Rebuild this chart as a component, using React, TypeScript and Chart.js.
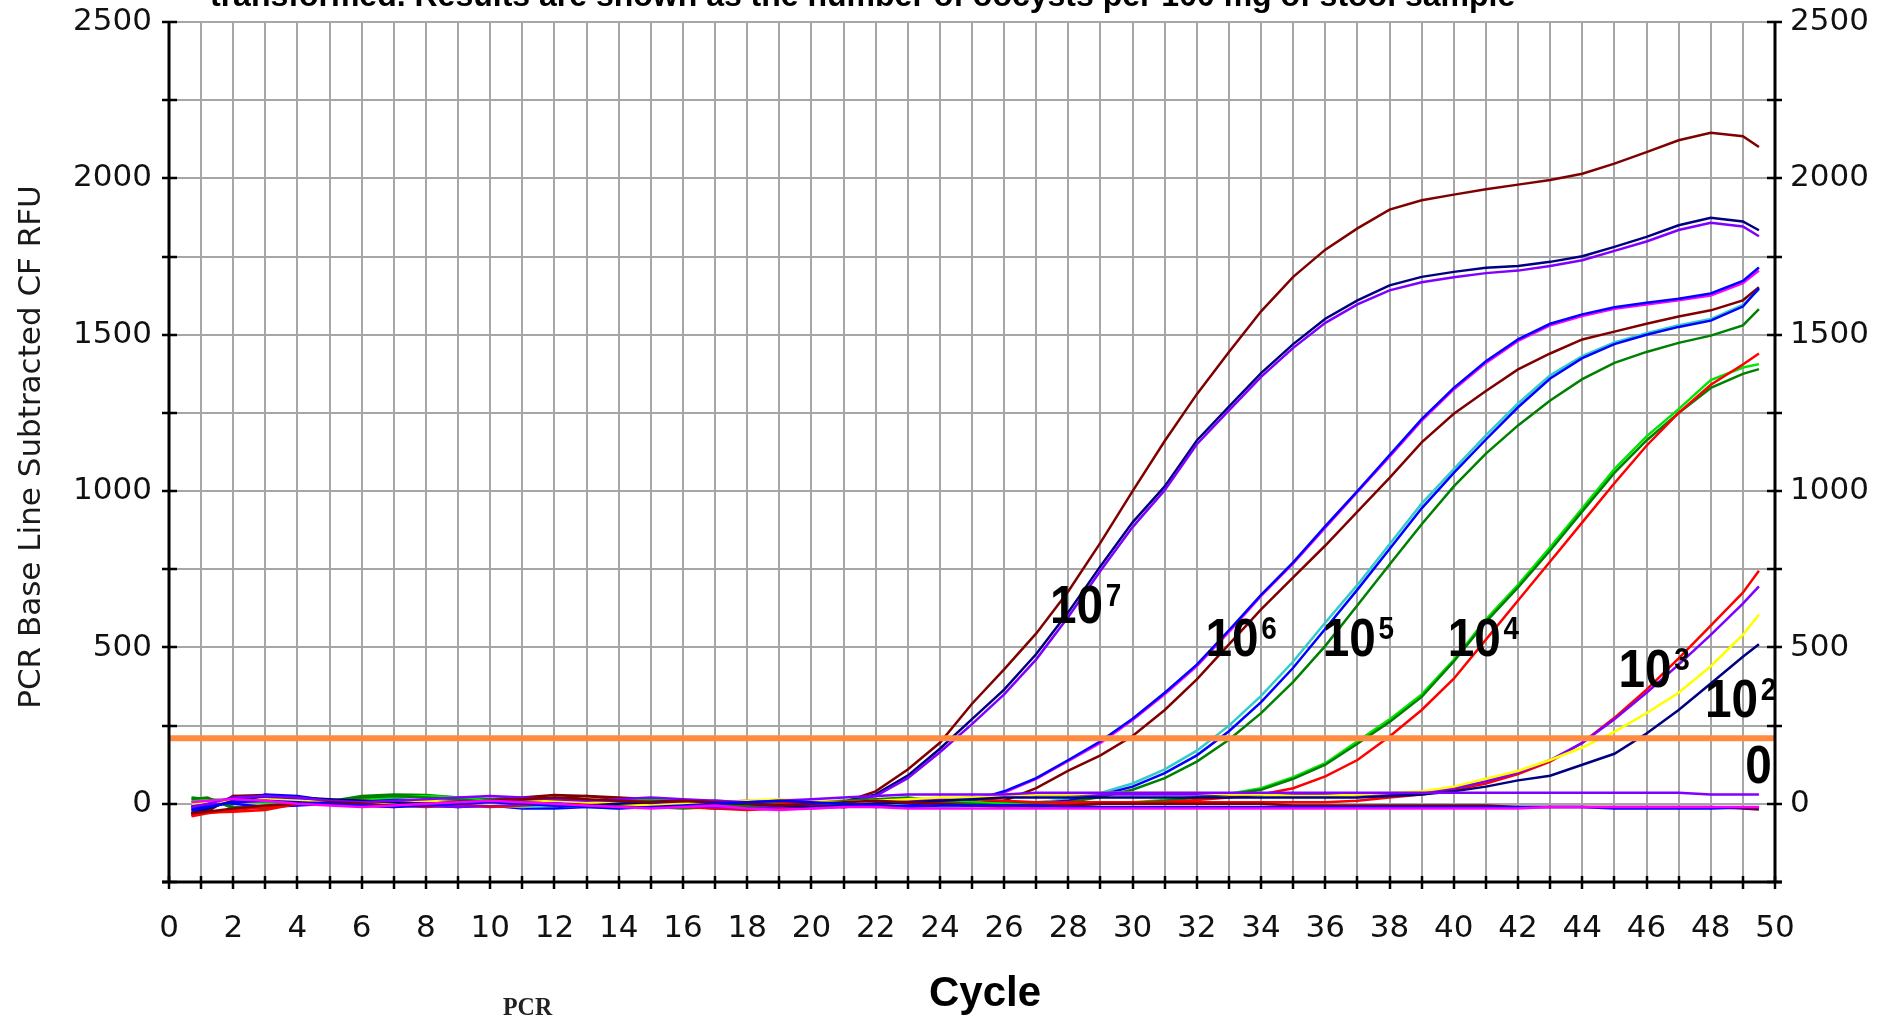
import React, { useEffect, useRef } from 'react';
import { Chart, registerables } from 'chart.js';

Chart.register(...registerables);

// ---------- data ----------
const cycles = [0.7, 1.2, 2, 3, 4, 5, 6, 7, 8, 9, 10, 11, 12, 13, 14, 15, 16, 17, 18, 19, 20, 21, 22, 23, 24, 25, 26, 27, 28, 29, 30, 31, 32, 33, 34, 35, 36, 37, 38, 39, 40, 41, 42, 43, 44, 45, 46, 47, 48, 49, 49.5];

// 10^7 oocysts
const s7Maroon = [-35, -25, 25, 28, 20, 5, -5, 2, 5, 8, 12, 15, 18, 25, 15, 10, 8, 5, -5, -10, -5, 5, 40, 110, 195, 320, 430, 545, 680, 835, 1000, 1160, 1310, 1445, 1575, 1685, 1772, 1840, 1900, 1930, 1948, 1965, 1980, 1995, 2015, 2047, 2084, 2122, 2146, 2135, 2100];
const s7Navy = [-10, 5, 10, 20, 22, 8, 2, 0, -2, 5, 10, 8, 5, 2, 0, -5, 0, 5, 2, -3, 0, 5, 30, 90, 176, 271, 365, 479, 613, 760, 900, 1015, 1162, 1270, 1377, 1470, 1551, 1610, 1658, 1685, 1701, 1714, 1720, 1733, 1751, 1781, 1813, 1850, 1874, 1862, 1834];
const s7Purple = [-20, -5, 15, 18, 10, 5, 0, 3, 6, 2, 0, 5, 10, 8, 3, 0, -2, -8, -12, -6, -2, 3, 25, 82, 165, 255, 350, 462, 598, 745, 885, 1003, 1150, 1258, 1365, 1458, 1538, 1597, 1642, 1668, 1684, 1697, 1705, 1720, 1738, 1768, 1798, 1835, 1858, 1846, 1815];
// 10^6
const s6Magenta = [5, 10, 12, 15, 10, 5, -5, -10, 0, 10, 15, 12, 8, 5, 2, 0, -5, -10, -15, -12, -15, -10, -5, 0, 3, 8, 36, 80, 137, 195, 268, 350, 440, 550, 665, 769, 883, 997, 1110, 1225, 1325, 1410, 1480, 1530, 1560, 1583, 1597, 1610, 1625, 1665, 1705];
const s6Blue = [-15, 0, 5, 30, 25, 10, 5, 0, -5, -10, -5, -15, -15, -10, -5, 0, 5, 10, 5, 0, -5, -10, -5, 0, 5, 10, 40, 82, 140, 200, 272, 355, 445, 555, 668, 772, 888, 1000, 1115, 1230, 1330, 1415, 1485, 1535, 1565, 1588, 1602, 1615, 1632, 1672, 1715];
const s6Maroon = [-30, -20, 25, 20, 15, 0, -5, 0, 5, 10, 15, 20, 28, 25, 20, 15, 10, 5, 5, 0, -5, -10, -5, -2, 0, 2, 10, 50, 106, 155, 217, 300, 398, 510, 622, 724, 826, 934, 1042, 1156, 1247, 1320, 1389, 1440, 1485, 1510, 1535, 1558, 1578, 1610, 1652];
// 10^5
const s5Cyan = [0, 10, 15, 10, 5, 0, 5, 10, 5, 0, -5, -10, -5, -10, -15, -5, 0, -5, -10, -5, 0, 5, 0, -5, -10, -5, 0, 5, 15, 35, 65, 110, 170, 250, 345, 455, 580, 700, 830, 960, 1070, 1178, 1280, 1370, 1432, 1475, 1505, 1530, 1550, 1595, 1645];
const s5Blue = [-5, 5, 0, -10, -5, 0, 10, 15, 10, 5, 0, 5, 10, 12, 8, 0, -8, -15, -10, -5, 0, -5, -10, -5, 0, 0, 0, 2, 10, 28, 55, 98, 155, 232, 325, 435, 560, 685, 815, 945, 1058, 1165, 1268, 1360, 1425, 1470, 1500, 1525, 1545, 1590, 1648];
const s5Green = [20, 15, -10, -15, 5, 8, 25, 30, 28, 20, 15, 10, 5, 0, -5, -10, -15, -10, -5, 0, 5, 10, 15, 20, 10, 5, 0, 0, 5, 22, 45, 82, 135, 205, 290, 390, 505, 635, 765, 894, 1015, 1120, 1210, 1290, 1358, 1410, 1445, 1474, 1497, 1530, 1582];
// 10^4
const s4Lime = [10, 15, 10, 5, 0, 5, 15, 20, 25, 20, 10, 5, 0, 5, 10, 15, 10, 5, 0, -5, -10, -5, 0, 5, 10, 5, 0, -5, 0, 3, 5, 12, 22, 32, 50, 85, 130, 200, 270, 350, 460, 590, 700, 820, 945, 1070, 1175, 1262, 1355, 1395, 1406];
const s4Green = [15, 20, -15, -10, 0, 5, 20, 25, 20, 15, 5, 0, -5, 0, 5, 10, 5, 0, -5, -10, -5, 0, 5, 10, 5, 0, -5, -10, -5, 0, 3, 10, 20, 30, 45, 80, 125, 192, 262, 342, 455, 582, 692, 810, 935, 1058, 1162, 1250, 1330, 1375, 1390];
const s4Red = [-35, -28, -25, -20, 0, 5, 0, -5, -10, -5, 0, 5, 10, 5, 0, -5, -10, -15, -20, -15, -10, -5, 0, 5, 0, -5, -10, -5, 0, 2, 3, 5, 12, 20, 30, 50, 88, 140, 215, 300, 400, 525, 650, 775, 900, 1025, 1145, 1250, 1340, 1405, 1440];
// 10^3
const s3Red = [-40, -30, -20, -10, 0, 5, 10, 5, 0, -5, -10, -5, 0, 5, 10, 5, 0, 5, 10, 5, 0, -5, 0, 5, 10, 15, 10, 5, 5, 5, 5, 5, 5, 5, 5, 5, 5, 10, 20, 30, 45, 65, 95, 135, 195, 275, 365, 465, 570, 675, 745];
const s3Purple = [-25, -10, 15, 20, 15, 10, 5, 0, -5, -10, -5, 0, 5, 10, 5, 0, -5, -10, -15, -10, -5, 0, 5, 10, 15, 20, 25, 30, 30, 30, 30, 30, 30, 30, 30, 30, 30, 30, 30, 35, 50, 72, 100, 140, 195, 270, 355, 445, 540, 640, 695];
// 10^2
const s2Yellow = [0, 5, 10, 15, 10, 5, 0, 5, 10, 5, 0, 5, 10, 5, 0, -5, 0, 5, 10, 15, 10, 5, 10, 15, 20, 20, 25, 30, 30, 35, 35, 35, 35, 30, 30, 25, 25, 30, 35, 40, 55, 80, 105, 140, 180, 230, 290, 355, 440, 540, 605];
const s2Navy = [-30, -15, 10, 25, 20, 15, 10, 5, 0, 5, 10, 5, 0, -5, 0, 5, 10, 5, 0, -5, -10, -5, 0, 5, 10, 15, 20, 20, 20, 20, 20, 20, 20, 20, 20, 20, 20, 20, 25, 30, 40, 55, 75, 90, 125, 160, 225, 300, 385, 470, 510];
// 0 (negative samples)
const s0Purple = [-10, 0, 20, 25, 20, 10, 5, 10, 15, 20, 25, 20, 15, 10, 15, 20, 15, 10, 5, 10, 15, 20, 25, 30, 30, 30, 30, 35, 35, 35, 35, 35, 35, 35, 35, 35, 35, 35, 35, 35, 35, 35, 35, 35, 35, 35, 35, 35, 30, 30, 30];
const s0Maroon = [-30, -25, -15, -5, 0, 5, 0, -5, 0, 5, 10, 15, 20, 15, 10, 5, 10, 5, 0, -5, 0, 5, 10, 5, 0, -5, -5, -5, -5, 0, 0, 0, 0, 0, 0, -5, -5, -5, -5, -5, -5, -5, -10, -10, -10, -10, -10, -10, -10, -15, -18];
const s0Blue = [-20, -10, 5, 10, 5, 0, -5, -10, -5, 0, 5, 0, -5, -10, -15, -10, -5, 0, 5, 10, 5, 0, -5, -10, -5, -5, -5, -5, -10, -10, -10, -10, -10, -10, -10, -10, -10, -10, -10, -10, -10, -10, -10, -10, -10, -15, -15, -15, -15, -12, -12];
const s0Magenta = [5, 10, 15, 10, 0, -5, -10, -5, 0, 5, 10, 5, 0, -5, -10, -15, -10, -5, -15, -20, -15, -10, -10, -15, -15, -15, -15, -15, -15, -15, -15, -15, -15, -15, -15, -15, -15, -15, -15, -15, -15, -15, -15, -10, -10, -10, -10, -10, -10, -10, -10];

const thresholdValue = 210;

const xTickMin = 0;
const xTickMax = 50;
const yTickMin = -250;
const yTickMax = 2500;
const yTickStep = 250;

const yAxisTitle = 'PCR Base Line Subtracted CF RFU';
const xAxisTitle = 'Cycle';
const topCaption = 'transformed. Results are shown as the number of oocysts per 100 mg of stool sample';
const footNote = 'PCR';

// annotation labels (anchored in data units: cycle, RFU)
const annotationBases = ['10', '10', '10', '10', '10', '10', '0'];
const annotationExps = ['7', '6', '5', '4', '3', '2', ''];
const annotationCycles = [27.43, 32.27, 35.92, 39.81, 45.13, 47.82, 49.07];
const annotationValues = [577, 473, 473, 473, 372, 278, 67];

// ---------- styles ----------
const MAROON = '#800000';
const NAVY = '#000080';
const PURPLE = '#8000ff';
const MAGENTA = '#ff00ff';
const BLUE = '#0000ff';
const CYAN = '#33cccc';
const DKGREEN = '#008000';
const LIME = '#00e600';
const RED = '#ff0000';
const YELLOW = '#ffff00';
const ORANGE = '#ff8a40';

const seriesTable = [
  { values: s0Magenta, color: MAGENTA },
  { values: s0Blue, color: BLUE },
  { values: s0Maroon, color: MAROON },
  { values: s0Purple, color: PURPLE },
  { values: s2Navy, color: NAVY },
  { values: s2Yellow, color: YELLOW },
  { values: s3Purple, color: PURPLE },
  { values: s3Red, color: RED },
  { values: s4Red, color: RED },
  { values: s4Green, color: DKGREEN },
  { values: s4Lime, color: LIME },
  { values: s5Green, color: DKGREEN },
  { values: s5Blue, color: BLUE },
  { values: s5Cyan, color: CYAN },
  { values: s6Maroon, color: MAROON },
  { values: s6Blue, color: BLUE },
  { values: s6Magenta, color: MAGENTA },
  { values: s7Purple, color: PURPLE },
  { values: s7Navy, color: NAVY },
  { values: s7Maroon, color: MAROON },
];

const TICK_FONT = { family: 'DejaVu Sans', size: 31 };

const overlayPlugin = {
  id: 'overlay',
  afterDraw(chart: any) {
    const { ctx, chartArea: ca, scales } = chart;
    const xs = scales.x;
    const ys = scales.y;
    ctx.save();

    // axes
    ctx.strokeStyle = '#000';
    ctx.lineWidth = 3;
    ctx.beginPath();
    ctx.moveTo(ca.left, ca.top - 1);
    ctx.lineTo(ca.left, ca.bottom + 1);
    ctx.moveTo(ca.right, ca.top - 1);
    ctx.lineTo(ca.right, ca.bottom + 1);
    ctx.moveTo(ca.left - 7, ca.bottom);
    ctx.lineTo(ca.right + 7, ca.bottom);
    ctx.stroke();

    // tick marks
    ctx.lineWidth = 2.5;
    ctx.beginPath();
    for (let v = yTickMin; v <= yTickMax; v += yTickStep) {
      const y = Math.round(ys.getPixelForValue(v));
      ctx.moveTo(ca.left - 7, y);
      ctx.lineTo(ca.left + 8, y);
      ctx.moveTo(ca.right - 8, y);
      ctx.lineTo(ca.right + 7, y);
    }
    for (let c = xTickMin; c <= xTickMax; c += 1) {
      const x = Math.round(xs.getPixelForValue(c));
      ctx.moveTo(x, ca.bottom - 6);
      ctx.lineTo(x, ca.bottom + 7);
    }
    ctx.stroke();

    // concentration annotations
    ctx.fillStyle = '#000';
    ctx.textBaseline = 'alphabetic';
    ctx.textAlign = 'left';
    for (let i = 0; i < annotationBases.length; i++) {
      const x = xs.getPixelForValue(annotationCycles[i]);
      const y = ys.getPixelForValue(annotationValues[i]);
      ctx.save();
      ctx.translate(x, y);
      ctx.scale(0.9, 1);
      ctx.font = 'bold 53px "Liberation Sans", Arial, sans-serif';
      ctx.fillText(annotationBases[i], 0, 0);
      const w = ctx.measureText(annotationBases[i]).width;
      if (annotationExps[i]) {
        ctx.font = 'bold 31px "Liberation Sans", Arial, sans-serif';
        ctx.fillText(annotationExps[i], w + 3, -17);
      }
      ctx.restore();
    }

    // y axis title
    ctx.save();
    ctx.translate(32, 447);
    ctx.rotate(-Math.PI / 2);
    ctx.font = '31px "DejaVu Sans", sans-serif';
    ctx.fillStyle = '#1a1a1a';
    ctx.textAlign = 'center';
    ctx.textBaseline = 'middle';
    ctx.fillText(yAxisTitle, 0, 0);
    ctx.restore();

    // x axis title
    ctx.fillStyle = '#000';
    ctx.font = 'bold 42px "Liberation Sans", Arial, sans-serif';
    ctx.textAlign = 'center';
    ctx.textBaseline = 'alphabetic';
    ctx.fillText(xAxisTitle, 985, 1006);

    // clipped caption at top
    ctx.font = 'bold 32px "Liberation Sans", Arial, sans-serif';
    ctx.textAlign = 'left';
    ctx.fillText(topCaption, 210, 6);

    // small footnote
    ctx.save();
    ctx.translate(503, 1015);
    ctx.scale(0.92, 1);
    ctx.font = 'bold 26px "Liberation Serif", serif';
    ctx.fillStyle = '#222';
    ctx.fillText(footNote, 0, 0);
    ctx.restore();

    ctx.restore();
  },
};

const zeroPadding = (s: any) => {
  s.paddingTop = 0;
  s.paddingBottom = 0;
  s.paddingLeft = 0;
  s.paddingRight = 0;
};

export default function App() {
  const canvasRef = useRef<HTMLCanvasElement | null>(null);

  useEffect(() => {
    const canvas = canvasRef.current;
    if (!canvas) return;

    const datasets: any[] = [
      {
        data: [
          { x: xTickMin, y: thresholdValue },
          { x: xTickMax, y: thresholdValue },
        ],
        borderColor: ORANGE,
        borderWidth: 6,
        pointRadius: 0,
        order: 0,
      },
      ...seriesTable.map((s, i) => ({
        data: cycles.map((c, k) => ({ x: c, y: s.values[k] })),
        borderColor: s.color,
        borderWidth: 2.5,
        pointRadius: 0,
        order: i + 1,
      })),
    ];

    const chart = new Chart(canvas, {
      type: 'line',
      data: { datasets },
      options: {
        animation: false,
        responsive: false,
        maintainAspectRatio: false,
        devicePixelRatio: 1,
        layout: { padding: { top: 22, left: 0, right: 0, bottom: 0 } },
        elements: { line: { tension: 0 }, point: { radius: 0 } },
        plugins: {
          legend: { display: false },
          tooltip: { enabled: false },
          title: { display: false },
        },
        scales: {
          x: {
            type: 'linear',
            min: xTickMin,
            max: xTickMax,
            afterFit: (s: any) => {
              s.height = 134;
              zeroPadding(s);
            },
            ticks: {
              stepSize: 1,
              autoSkip: false,
              maxRotation: 0,
              minRotation: 0,
              padding: 28,
              font: TICK_FONT,
              color: '#111',
              callback: (v: any) => (Number(v) % 2 === 0 ? String(v) : ''),
            },
            grid: { color: '#a6a6a6', lineWidth: 2, drawTicks: false },
            border: { display: false },
          },
          y: {
            type: 'linear',
            position: 'left',
            min: yTickMin,
            max: yTickMax,
            afterFit: (s: any) => {
              s.width = 169;
              zeroPadding(s);
            },
            ticks: {
              stepSize: yTickStep,
              autoSkip: false,
              padding: 17,
              font: TICK_FONT,
              color: '#111',
              callback: (v: any) => (Number(v) % 500 === 0 ? String(v) : ''),
            },
            grid: { color: '#a6a6a6', lineWidth: 2, drawTicks: false },
            border: { display: false },
          },
          y2: {
            type: 'linear',
            position: 'right',
            min: yTickMin,
            max: yTickMax,
            afterFit: (s: any) => {
              s.width = 104;
              zeroPadding(s);
            },
            ticks: {
              stepSize: yTickStep,
              autoSkip: false,
              padding: 15,
              font: TICK_FONT,
              color: '#111',
              callback: (v: any) => (Number(v) % 500 === 0 ? String(v) : ''),
            },
            grid: { display: false, drawTicks: false },
            border: { display: false },
          },
        },
      },
      plugins: [overlayPlugin],
    });

    return () => {
      chart.destroy();
    };
  }, []);

  return (
    <div style={{ position: 'fixed', left: 0, top: 0, width: 1879, height: 1016, background: '#fff' }}>
      <canvas ref={canvasRef} width={1879} height={1016} style={{ width: 1879, height: 1016, display: 'block' }} />
    </div>
  );
}
